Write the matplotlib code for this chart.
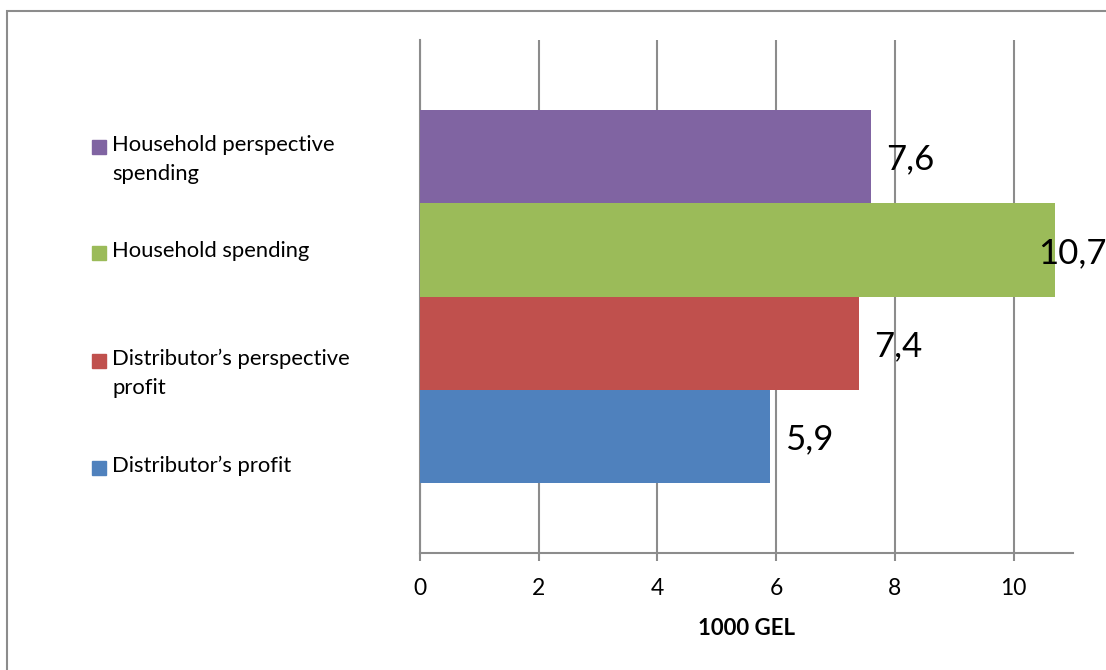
import matplotlib
matplotlib.use("Agg")
import matplotlib.pyplot as plt
from matplotlib.patches import Rectangle

plt.rcParams['font.family'] = ['Lato', 'DejaVu Sans']

# ── Data (bottom to top, as drawn) ───────────────────────────────────────────
series = ["Distributor\u2019s profit",
          "Distributor\u2019s perspective\nprofit",
          "Household spending",
          "Household perspective\nspending"]
values = [5.9, 7.4, 10.7, 7.6]
labels = ["5,9", "7,4", "10,7", "7,6"]
colors = ["#4F81BD", "#C0504D", "#9BBB59", "#8064A2"]
xticks = [0, 2, 4, 6, 8, 10]

W, H = 1106, 670
fig = plt.figure(figsize=(W / 100, H / 100), dpi=100)

# outer chart border (left + top visible, rest runs off the picture)
fig.patches.append(Rectangle((7 / W, -0.2), 1.3, 1.2 - 11 / H,
                             transform=fig.transFigure, fill=False,
                             edgecolor="#8c8c8c", lw=1.5))

ax = fig.add_axes([420 / W, 1 - 553 / H, 653 / W, 513 / H])
ypos = list(range(len(values)))
bars = ax.barh(ypos, values, height=1.0, color=colors, zorder=3)

ax.set_xlim(0, 11)
ax.set_ylim(-1.25, len(values) + 0.25)
ax.set_xticks(xticks)
ax.set_xticklabels([str(t) for t in xticks])
ax.set_yticks([])
ax.grid(True, axis='x', color="#8c8c8c", lw=1.5, zorder=0)
for s in ["top", "right"]:
    ax.spines[s].set_visible(False)
for s in ["left", "bottom"]:
    ax.spines[s].set_color("#8c8c8c")
    ax.spines[s].set_linewidth(1.5)
ax.tick_params(axis='x', length=6, width=1.5, color="#8c8c8c",
               labelsize=16.5, pad=12, labelcolor="black")
ax.set_xlabel("1000 GEL", fontsize=16, fontweight='bold', labelpad=14)

# data labels
for b, v, lab in zip(bars, values, labels):
    off = 15 if v < 10.4 else -17
    ax.annotate(lab, (v, b.get_y() + b.get_height() / 2),
                xytext=(off, -3), textcoords='offset pixels',
                ha='left', va='center', fontsize=25, color="black",
                annotation_clip=False, zorder=5)

# legend (Excel-style, squares aligned with first text line)
leg_y = [468, 361, 253, 147]
for name, col, yy in zip(series, colors, leg_y):
    fig.patches.append(Rectangle((92 / W, 1 - (yy + 7) / H), 14 / W, 14 / H,
                                 transform=fig.transFigure, color=col))
    fig.text(112 / W, 1 - (yy - 12) / H, name, ha='left', va='top',
             fontsize=15.8, linespacing=1.55)

fig.savefig("out.png", dpi=100)
